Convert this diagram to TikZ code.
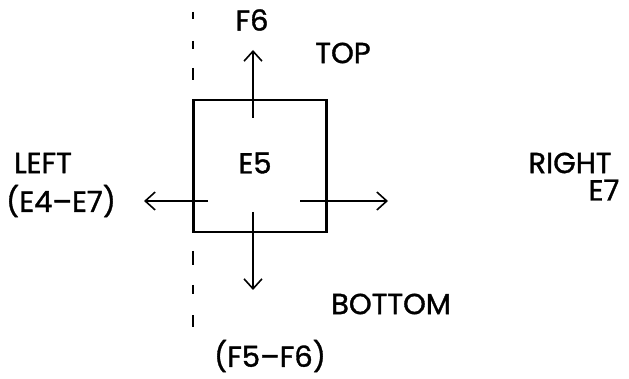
\documentclass[tikz,border=0pt]{standalone}
\usepackage{fontspec}
\setmainfont[FakeBold=1.2]{Poppins}
\usetikzlibrary{arrows.meta}
\begin{document}
\begin{tikzpicture}[x=1pt,y=-1pt,
  lbl/.style={font=\fontsize{29}{31}\selectfont, inner sep=0pt},
  arr/.style={line width=1.8pt, -{Straight Barb[length=10pt,width=18pt,line width=1.6pt]}},
  dashseg/.style={line width=1.6pt}]
\useasboundingbox (0,0) rectangle (629,379);
% box
\node[draw, line width=2.4pt, minimum width=133pt, minimum height=132pt, inner sep=0pt] (box) at (260,166) {};
\node[lbl] (e5) at (255,163) {E5};
% dashed line
\draw[dashseg] (193,12) -- (193,19);
\draw[dashseg] (193,41) -- (193,49);
\draw[dashseg] (193,68) -- (193,80);
\draw[dashseg] (193,251) -- (193,265);
\draw[dashseg] (193,285) -- (193,294);
\draw[dashseg] (193,315) -- (193,327);
% arrows
\coordinate (uptail) at (253,118);
\coordinate (uptip) at (253,50);
\coordinate (lefttail) at (208,201);
\coordinate (lefttip) at (144,201);
\coordinate (righttail) at (300,201);
\coordinate (righttip) at (388,201);
\coordinate (downtail) at (253,212);
\coordinate (downtip) at (253,290);
\draw[arr] (uptail) -- (uptip);
\draw[arr] (lefttail) -- (lefttip);
\draw[arr] (righttail) -- (righttip);
\draw[arr] (downtail) -- (downtip);
% labels
\node[lbl] (f6) at (252,20) {F6};
\node[lbl] (top) at (343,53) {TOP};
\node[lbl] (left) at (43,163) {LEFT};
\node[lbl] (e4e7) at (61,201) {(E4–E7)};
\node[lbl] (right) at (570,163) {RIGHT};
\node[lbl] (e7) at (604,190) {E7};
\node[lbl] (bottom) at (391,304) {BOTTOM};
\node[lbl] (f5f6) at (270,356) {(F5–F6)};
\end{tikzpicture}
\end{document}
